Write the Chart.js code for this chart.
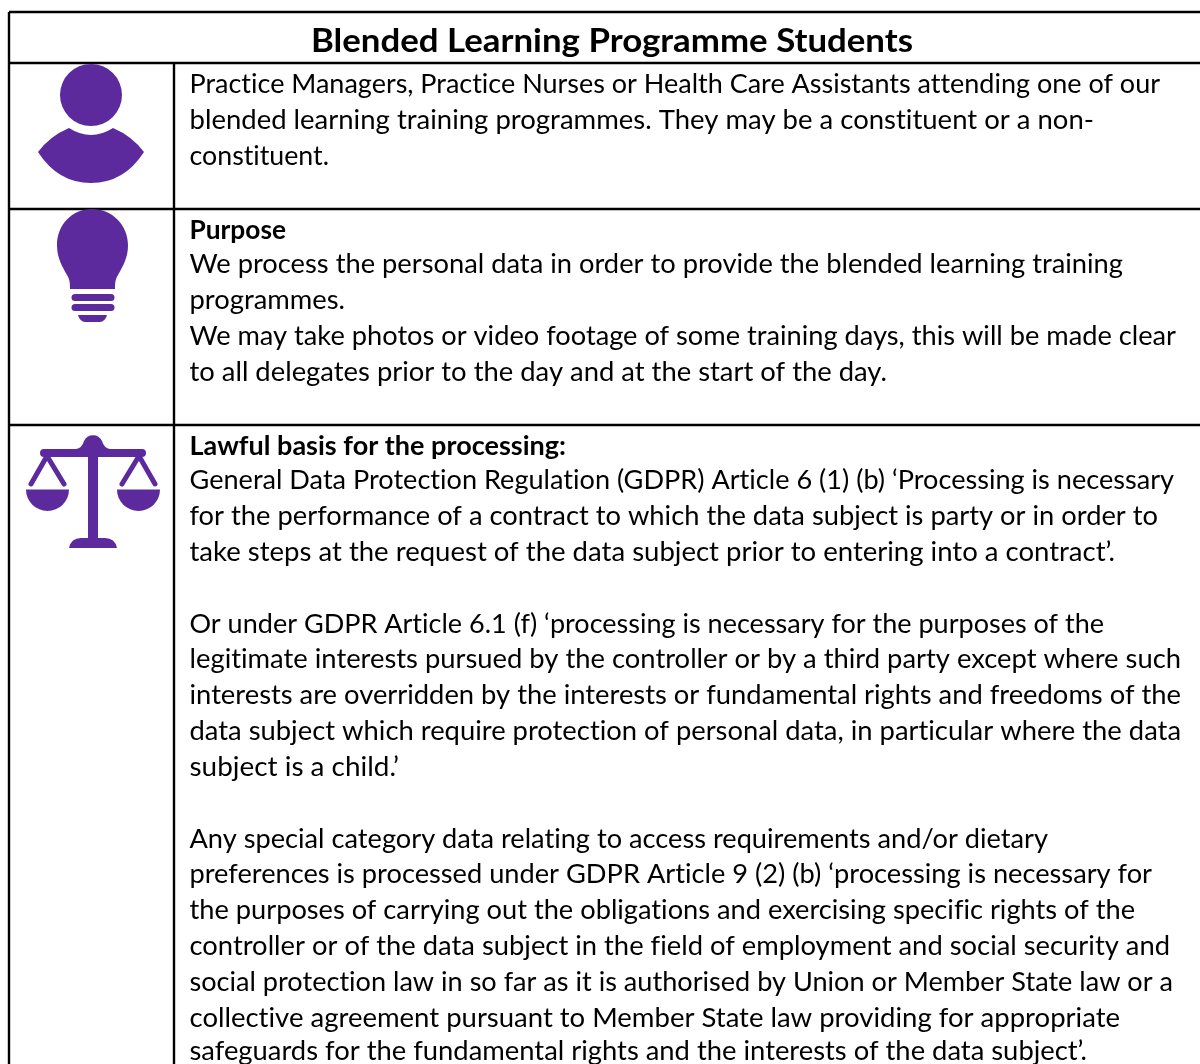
<!DOCTYPE html>
<html>
<head>
<meta charset="utf-8">
<title>Blended Learning Programme Students</title>
<script src="https://cdn.jsdelivr.net/npm/chart.js@4"></script>
<style>
  html, body { margin: 0; padding: 0; background: #fff; overflow: hidden; }
  canvas { display: block; }
</style>
</head>
<body>
<canvas id="sheet" width="1200" height="1064"></canvas>
<script>
// Table text, one entry per printed line
const titleText = 'Blended Learning Programme Students';
const bodyLines = [
    'Practice Managers, Practice Nurses or Health Care Assistants attending one of our',
    'blended learning training programmes. They may be a constituent or a non-',
    'constituent.',
    'Purpose',
    'We process the personal data in order to provide the blended learning training',
    'programmes.',
    'We may take photos or video footage of some training days, this will be made clear',
    'to all delegates prior to the day and at the start of the day.',
    'Lawful basis for the processing:',
    'General Data Protection Regulation (GDPR) Article 6 (1) (b) ‘Processing is necessary',
    'for the performance of a contract to which the data subject is party or in order to',
    'take steps at the request of the data subject prior to entering into a contract’.',
    'Or under GDPR Article 6.1 (f) ‘processing is necessary for the purposes of the',
    'legitimate interests pursued by the controller or by a third party except where such',
    'interests are overridden by the interests or fundamental rights and freedoms of the',
    'data subject which require protection of personal data, in particular where the data',
    'subject is a child.’',
    'Any special category data relating to access requirements and/or dietary',
    'preferences is processed under GDPR Article 9 (2) (b) ‘processing is necessary for',
    'the purposes of carrying out the obligations and exercising specific rights of the',
    'controller or of the data subject in the field of employment and social security and',
    'social protection law in so far as it is authorised by Union or Member State law or a',
    'collective agreement pursuant to Member State law providing for appropriate',
    'safeguards for the fundamental rights and the interests of the data subject’.'
];
const lineBaselines = [93, 129, 165, 239, 273, 309, 345, 381, 455, 489, 525, 561, 633, 668, 704, 740, 776, 848, 883, 919, 955, 991, 1027, 1060];
const lineEnds = [1160, 1094, 329, 286, 1123, 345, 1176, 887, 566, 1174, 1158, 1115, 1104, 1181, 1181, 1181, 399, 1048, 1152, 1135, 1170, 1173, 1120, 1087];
const boldLines = [3, 8];

// Table rules
const rowRules = [12, 63, 209, 425];
const columnRules = [9, 174];
const columnTops = [12, 63];

// Icons, as outlines on the page grid
const iconColor = '#5c2a9d';
const iconPaths = [
    // person
    'M122 95A31 31 0 1 1 60 95A31 31 0 1 1 122 95Z',
    'M38 152Q50 136 69 128Q80 135 91 135Q102 135 113 128Q132 136 144 152Q124 183 91 183Q58 183 38 152Z',
    // bulb
    'M92 209C72 209 57 225 57 245C57 258 62 266 67 275C70 280 70 284 70 289H115C115 284 115 280 118 275C123 266 128 258 128 245C128 225 112 209 92 209Z',
    'M75 294H111A3.5 3.5 0 0 1 111 301H75A3.5 3.5 0 0 1 75 294Z',
    'M75 304H111A3.5 3.5 0 0 1 111 311H75A3.5 3.5 0 0 1 75 304Z',
    'M78 315H107C106 319 103 322 100 322H85C82 322 79 319 78 315Z',
    // scales
    'M44 449H76Q82 448 84 441A10 10 0 0 1 102 441Q104 448 110 449H142A4 4 0 0 1 142 457H98V538H105Q115 538 117 548H69Q71 538 81 538H88V457H44A4 4 0 0 1 44 449Z',
    'M26 489.5H69A21.5 21.5 0 0 1 26 489.5Z',
    'M117 489.5H160A21.5 21.5 0 0 1 117 489.5Z'
];
const iconStrokes = ['M47 456L31 484', 'M47 456L64 484', 'M139 456L122 484', 'M139 456L155 484'];

const sheetText = {
    id: 'sheetText',
    afterDatasetsDraw(chart) {
        const { ctx, scales } = chart;
        const px = v => scales.x.getPixelForValue(v);
        const py = v => scales.y.getPixelForValue(v);

        ctx.save();
        ctx.fillStyle = iconColor;
        ctx.strokeStyle = iconColor;
        ctx.lineWidth = 5;
        ctx.lineCap = 'round';
        iconPaths.forEach(d => ctx.fill(new Path2D(d)));
        iconStrokes.forEach(d => ctx.stroke(new Path2D(d)));

        ctx.fillStyle = '#000';
        ctx.textBaseline = 'alphabetic';
        ctx.textRendering = 'optimizeSpeed'; // no ligatures, the original has none

        // every line is fitted to the width it has in the original
        const fitted = (text, left, right, base) => {
            const width = ctx.measureText(text).width;
            ctx.save();
            ctx.translate(px(left), py(base));
            ctx.scale((right - left) / width, 1);
            ctx.fillText(text, 0, 0);
            ctx.restore();
        };

        ctx.font = 'bold 33px Lato';
        fitted(titleText, 311, 913, 52);

        bodyLines.forEach((line, i) => {
            ctx.font = (boldLines.includes(i) ? 'bold ' : '') + '26.5px Lato';
            fitted(line, 189.5, lineEnds[i], lineBaselines[i]);
        });
        ctx.restore();
    }
};

const ruleSets = [
    ...rowRules.map(y => [{ x: 9, y }, { x: 1200, y }]),
    ...columnRules.map((x, i) => [{ x, y: columnTops[i] }, { x, y: 1064 }])
];

new Chart(document.getElementById('sheet'), {
    type: 'scatter',
    data: {
        datasets: ruleSets.map(data => ({
            data,
            showLine: true,
            borderColor: '#000',
            borderWidth: 2.4,
            pointRadius: 0
        }))
    },
    options: {
        responsive: false,
        animation: false,
        layout: { padding: 0 },
        plugins: { legend: { display: false }, tooltip: { enabled: false } },
        scales: {
            x: { type: 'linear', min: 0, max: 1200, display: false },
            y: { type: 'linear', min: 0, max: 1064, reverse: true, display: false }
        }
    },
    plugins: [sheetText]
});
</script>
</body>
</html>
